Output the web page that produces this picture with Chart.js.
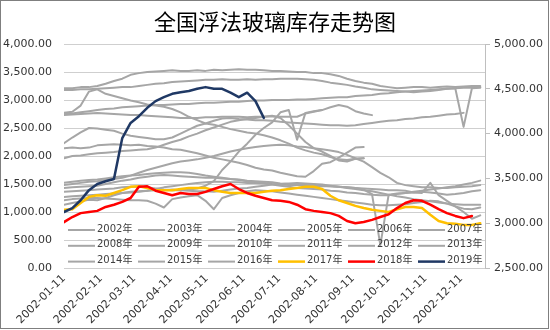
<!DOCTYPE html>
<html>
<head>
<meta charset="utf-8">
<script src="https://cdn.jsdelivr.net/npm/chart.js@4.4.1/dist/chart.umd.min.js"></script>
<style>
  html, body { margin: 0; padding: 0; background: #fff; }
  canvas { display: block; }
</style>
</head>
<body>
<canvas id="c" width="550" height="330"></canvas>
<script>
// Weekly inventory readings, x = days after 01-11
const weekDays = [0,7,14,21,28,35,42,49,56,63,70,77,84,91,98,105,112,119,126,133,140,147,154,161,168,175,182,189,196,203,210,217,224,231,238,245,252,259,266,273,280,287,294,301,308,315,322,329,336,343,350];

// Month ticks on the date axis
const tickDays = [0,31,59,90,120,151,181,212,243,273,304,334];
const tickLabels = ['2002-01-11','2002-02-11','2002-03-11','2002-04-11','2002-05-11','2002-06-11','2002-07-11','2002-08-11','2002-09-11','2002-10-11','2002-11-11','2002-12-11'];

const years = ['2002年','2003年','2004年','2005年','2006年','2007年','2008年','2009年','2010年','2011年','2012年','2013年','2014年','2015年','2016年','2017年','2018年','2019年'];

const s2002 = [3210,3210,3230,3230,3250,3290,3340,3380,3450,3480,3500,3510,3520,3530,3520,3520,3530,3520,3540,3530,3540,3550,3540,3540,3530,3520,3520,3510,3500,3500,3480,3480,3460,3430,3380,3340,3310,3290,3250,3230,3210,3220,3230,3230,3220,3230,3240,3230,3240,3250,3250];
const s2003 = [3180,3180,3190,3190,3200,3210,3220,3230,3230,3250,3270,3290,3300,3320,3330,3340,3350,3360,3360,3370,3360,3360,3370,3360,3370,3370,3380,3380,3380,3370,3360,3340,3310,3290,3270,3240,3220,3190,3180,3170,3160,3150,3140,3150,3160,3180,3200,3210,2520,3210,3220];
const s2004 = [2770,2760,2780,2800,2820,2840,2850,2870,2880,2890,2900,2910,2910,2920,2930,2930,2940,2950,2950,2960,2970,2970,2980,2990,2990,3000,3000,3000,3010,3010,3020,3030,3040,3050,3050,3070,3080,3090,3110,3120,3140,3150,3160,3170,3180,3190,3200,3210,3220,3220,3230];
const s2005 = [2730,2740,2750,2760,2770,2760,2750,2740,2730,2730,2720,2710,2700,2690,2680,2680,2680,2690,2690,2700,2700,2700,2690,2700,2700,2710,2700,2700,2700,2760,2790,2820,2870,2910,2880,2800,2760,2730];
const s2006 = [2770,2790,2900,3150,3190,3110,3070,3030,2990,2960,2920,2900,2880,2840,2780,2700,2640,2580,2560,2520,2480,2450,2420,2400,2370,2330,2280,2220,2150,2100,2060,2030,1980,1940,1930,1950,1960];
const s2007 = [2230,2330,2420,2500,2490,2470,2450,2400,2360,2340,2320,2300,2300,2330,2400,2470,2540,2580,2630,2670,2680,2660,2650,2640,2640,2630,2610,2600,2590,2580,2570,2560,2550,2550,2540,2550,2570,2590,2610,2630,2640,2660,2670,2690,2700,2720,2740,2750,2770];
const s2008 = [2140,2150,2140,2150,2190,2200,2210,2200,2190,2200,2180,2170,2150,2120,2110,2080,2050,2010,1970,1940,1910,1880,1840,1790,1760,1740,1700,1670,1640,1630,1730,1860,1890,1970,2060,2150,2160];
const s2009 = [1960,2000,2010,2030,2050,2060,2070,2090,2100,2110,2120,2150,2200,2250,2290,2350,2400,2460,2510,2560,2610,2640,2660,2680,2700,2720,2680,2550,2400,2250,2140,2080,2000,1920,1900,1950,1960];
const s2010 = [1520,1540,1560,1570,1580,1600,1620,1640,1650,1660,1680,1690,1700,1710,1710,1700,1680,1650,1630,1610,1590,1580,1560,1550,1540,1530,1510,1500,1490,1480,1470,1460,1460,1450,1440,1430,1420,1410,1400,1390,1390,1380,1350,1340,1520,1300,1200,1100,1000,880,940];
const s2011 = [1430,1440,1450,1460,1470,1500,1530,1560,1580,1610,1630,1650,1660,1650,1640,1630,1620,1610,1610,1600,1590,1570,1550,1530,1520,1500,1490,1480,1480,1470,1480,1470,1460,1450,1440,1430,1400,1320,410,1310,1330,1340,1350,1360,1350,1330,1310,1320,1340,1370,1390];
const s2012 = [1270,1280,1290,1300,1310,1320,1330,1340,1350,1360,1380,1410,1440,1460,1480,1500,1520,1530,1540,1540,1530,1530,1520,1520,1510,1490,1470,1450,1430,1420,1410,1400,1380,1370,1350,1340,1320,1310,1300,1300,1320,1340,1360,1380,1400,1420,1440,1460,1490,1520,1560];
const s2013 = [1210,1230,1240,1250,1250,1240,1230,1220,1210,1210,1200,1150,1080,1230,1260,1280,1300,1200,1050,1250,1300,1340,1370,1390,1380,1370,1350,1330,1310,1290,1270,1250,1230,1210,1190,1170,1150,1130,1120,1120,1130,1140,1160,1180,1200,1190,1150,1100,1060,1050,1080];
const s2014 = [1130,1160,1190,1220,1210,1250,1300,1340,1360,1370,1380,1390,1390,1400,1390,1400,1420,1470,1550,1750,1900,2080,2220,2380,2500,2600,2780,2820,2290,2770,2800,2820];
const s2015 = [1480,1500,1520,1540,1550,1570,1590,1610,1650,1700,1750,1790,1830,1870,1900,1920,1940,1970,2000,2040,2080,2110,2140,2160,2180,2190,2200,2190,2170,2160,2140,2120,2100,2070,2020,1960,1900,1800,1700,1620,1520,1480,1460,1440,1440,1430,1430,1440,1450,1460,1480];
const s2016 = [1360,1370,1380,1390,1400,1410,1420,1440,1450,1450,1440,1420,1400,1390,1390,1380,1370,1370,1360,1380,1400,1420,1430,1450,1470,1490,1500,1510,1520,1510,1500,1490,1470,1450,1430,1410,1390,1370,1340,1310,1280,1260,1230,1210,1190,1170,1150,1140,1130,1130,1130];
const s2017 = [1040,1050,1160,1270,1300,1290,1340,1390,1450,1460,1430,1390,1390,1390,1410,1430,1430,1430,1390,1360,1340,1340,1340,1340,1360,1380,1390,1410,1430,1450,1450,1410,1290,1210,1160,1110,1070,1040,1020,1000,1050,1090,1090,1070,950,840,800,790,770,770,800];
const s2018 = [820,910,980,1000,1020,1090,1130,1180,1250,1450,1460,1380,1340,1300,1340,1320,1320,1360,1410,1460,1500,1410,1340,1290,1250,1210,1200,1180,1130,1050,1020,1000,980,930,840,800,820,860,910,960,1070,1160,1210,1200,1130,1050,980,930,890,930];
const s2019 = [1000,1070,1210,1390,1500,1550,1590,2320,2590,2710,2860,2980,3050,3110,3140,3160,3200,3230,3200,3200,3130,3050,3130,2980,2680];

const seriesList = [s2002,s2003,s2004,s2005,s2006,s2007,s2008,s2009,s2010,s2011,s2012,s2013,s2014,s2015,s2016,s2017,s2018,s2019];

const GRAY = '#a6a6a6';
const seriesColors = years.map((y, i) => i === 15 ? '#ffc000' : i === 16 ? '#ff0000' : i === 17 ? '#1f3864' : GRAY);

const datasets = seriesList.map((vals, i) => ({
  label: years[i],
  data: vals,
  borderColor: seriesColors[i],
  backgroundColor: seriesColors[i],
  borderWidth: i >= 15 ? 2.5 : 2,
  fill: false,
  yAxisID: 'y',
  order: i === 17 ? 0 : i === 16 ? 1 : i === 15 ? 2 : 3
}));

const tickFont = { family: '"DejaVu Sans", sans-serif', size: 11 };
const money = v => Number(v).toLocaleString('en-US', { minimumFractionDigits: 2, maximumFractionDigits: 2 });

// white page with a thin frame
const framePlugin = {
  id: 'frame',
  beforeDraw(chart) {
    const c = chart.ctx;
    c.save();
    c.fillStyle = '#fff';
    c.fillRect(0, 0, chart.width, chart.height);
    c.restore();
  },
  afterDraw(chart) {
    const c = chart.ctx;
    c.save();
    c.strokeStyle = '#7f7f7f';
    c.lineWidth = 1;
    c.strokeRect(0.5, 0.5, chart.width - 2, chart.height - 2);
    c.restore();
  }
};

// legend laid over the lower part of the plot, six entries per row
const insideLegend = {
  id: 'insideLegend',
  afterDatasetsDraw(chart) {
    const c = chart.ctx;
    const area = chart.chartArea;
    c.save();
    c.font = '10px "DejaVu Sans", "Noto Sans CJK SC", sans-serif';
    c.textBaseline = 'middle';
    c.textAlign = 'left';
    chart.data.datasets.forEach((ds, i) => {
      const col = i % 6, row = Math.floor(i / 6);
      const x = area.left + 4 + col * 70;
      const y = area.bottom - 39 + row * 15.8;
      c.strokeStyle = ds.borderColor;
      c.lineWidth = ds.borderWidth;
      c.beginPath();
      c.moveTo(x, y + 1);
      c.lineTo(x + 27, y + 1);
      c.stroke();
      c.fillStyle = '#404040';
      c.fillText(ds.label, x + 29, y);
    });
    c.restore();
  }
};

new Chart(document.getElementById('c').getContext('2d'), {
  type: 'line',
  data: { labels: weekDays, datasets },
  options: {
    responsive: false,
    animation: false,
    devicePixelRatio: 1,
    layout: { padding: 0 },
    elements: {
      point: { radius: 0, hoverRadius: 0 },
      line: { tension: 0, borderJoinStyle: 'round', borderCapStyle: 'round' }
    },
    plugins: {
      legend: { display: false },
      tooltip: { enabled: false },
      title: {
        display: true,
        text: '全国浮法玻璃库存走势图',
        color: '#000',
        font: { family: '"Noto Sans CJK SC", sans-serif', size: 22, weight: 'normal', lineHeight: 1.2 },
        padding: { top: 8, bottom: 9.6 }
      }
    },
    scales: {
      x: {
        type: 'linear',
        min: 0,
        max: 354,
        afterBuildTicks: s => { s.ticks = tickDays.map(v => ({ value: v })); },
        afterFit: s => { s.height = 62; },
        ticks: {
          autoSkip: false,
          minRotation: 45,
          maxRotation: 45,
          padding: 4,
          color: '#333',
          font: tickFont,
          callback: (v, i) => tickLabels[i]
        },
        grid: { display: false, drawTicks: false },
        border: { display: false }
      },
      y: {
        position: 'left',
        min: 0,
        max: 4000,
        afterFit: s => { s.width = 64; },
        ticks: { stepSize: 500, padding: 12, color: '#333', font: tickFont, callback: money },
        grid: { color: '#cfcfcf', lineWidth: 1, drawTicks: false },
        border: { display: false }
      },
      y1: {
        position: 'right',
        min: 2500,
        max: 5000,
        afterFit: s => { s.width = 65; },
        ticks: { stepSize: 500, padding: 4, color: '#333', font: tickFont, callback: money },
        grid: { drawOnChartArea: false, drawTicks: true, tickLength: 5, color: '#bfbfbf' },
        border: { display: true, color: '#bfbfbf' }
      }
    }
  },
  plugins: [framePlugin, insideLegend]
});
</script>
</body>
</html>
